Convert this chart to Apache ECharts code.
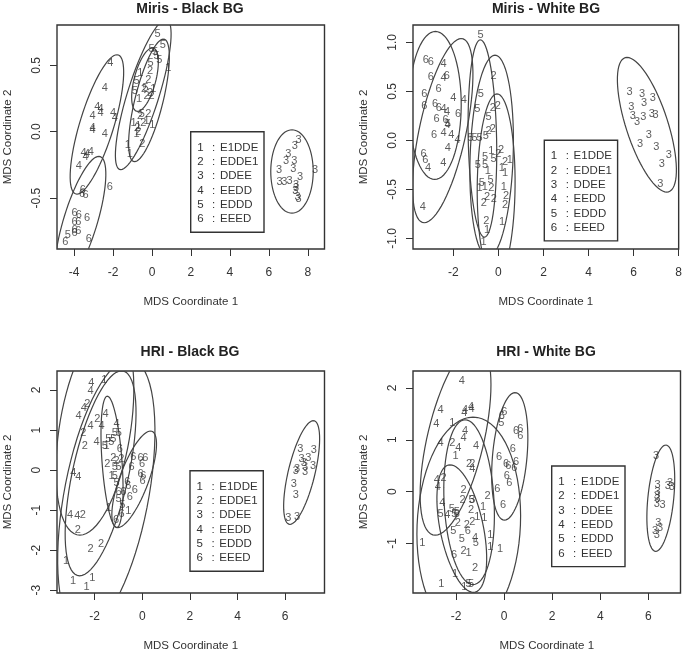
<!DOCTYPE html>
<html>
<head>
<meta charset="utf-8">
<title>MDS plots</title>
<script src="https://cdn.jsdelivr.net/npm/echarts@6/dist/echarts.min.js"></script>
<style>
html, body { margin: 0; padding: 0; background: #fff; }
#main { width: 685px; height: 653px; }
</style>
</head>
<body>
<div id="main"></div>
<script>
var groupDigits = ['1', '2', '3', '4', '5', '6'];
var legendNames = ['E1DDE', 'EDDE1', 'DDEE', 'EEDD', 'EDDD', 'EEED'];
var panelTitles = ['Miris - Black BG', 'Miris - White BG', 'HRI - Black BG', 'HRI - White BG'];
var xAxisName = 'MDS Coordinate 1';
var yAxisName = 'MDS Coordinate 2';

// axis ranges and ticks
var xRanges = [[-4.88, 8.86], [-3.79, 8.0], [-3.58, 7.65], [-3.79, 7.34]];
var yRanges = [[-0.884, 0.804], [-1.108, 1.178], [-3.07, 2.475], [-1.956, 2.327]];
var xTicks = [[-4, -2, 0, 2, 4, 6, 8], [-2, 0, 2, 4, 6, 8], [-2, 0, 2, 4, 6], [-2, 0, 2, 4, 6]];
var yTicks = [[-0.5, 0, 0.5], [-1, -0.5, 0, 0.5, 1], [-3, -2, -1, 0, 1, 2], [-1, 0, 1, 2]];
var yDecimals = [1, 1, 0, 0];

// points per group
var mirisBlack1 = [[-0.6,0.44],[-0.66,0.25],[-0.95,0.065],[0.02,0.05],[-1.24,-0.1],[-1.14,-0.17],[0.84,0.48],[-0.79,-0.02],[-0.28,0.08],[-0.71,0.04],[0.07,0.32]];
var mirisBlack2 = [[-0.5,-0.09],[-0.71,0],[-0.62,0.115],[-0.19,0.13],[-0.45,0.065],[-0.76,0.03],[-0.28,0.27],[-0.1,0.29],[-0.41,0.32],[-0.19,0.39],[-0.1,0.455],[-0.02,0.27]];
var mirisBlack3 = [[7.53,-0.065],[7.34,-0.11],[7,-0.17],[6.88,-0.22],[7.31,-0.22],[7.26,-0.28],[6.53,-0.29],[8.38,-0.29],[7.6,-0.34],[6.55,-0.38],[6.79,-0.38],[7.07,-0.37],[7.4,-0.4],[7.4,-0.425],[7.36,-0.45],[7.48,-0.49],[7.53,-0.51]];
var mirisBlack4 = [[-2.14,0.52],[-2.43,0.33],[-2.81,0.19],[-2.64,0.17],[-2.64,0.14],[-3.05,0.12],[-2,0.14],[-1.91,0.1],[-3.05,0.03],[-3.05,0.015],[-2.43,-0.02],[-3.52,-0.16],[-3.34,-0.17],[-3.14,-0.15],[-3.41,-0.19],[-3.76,-0.26]];
var mirisBlack5 = [[0.29,0.74],[0.55,0.65],[-0.02,0.62],[0.16,0.6],[0.24,0.57],[0.38,0.54],[-0.79,0.38],[-0.88,0.31],[-0.07,0.52],[-0.33,0.33],[-0.53,0.13],[-4.33,-0.78]];
var mirisBlack6 = [[-2.17,-0.42],[-3.55,-0.44],[-3.41,-0.48],[-3.59,-0.47],[-3.98,-0.61],[-3.76,-0.63],[-3.33,-0.65],[-3.98,-0.68],[-3.79,-0.68],[-3.98,-0.74],[-3.79,-0.75],[-3.98,-0.76],[-3.24,-0.81],[-4.45,-0.83]];

var mirisWhite1 = [[-0.32,-0.105],[0.51,-0.2],[0.15,-0.28],[0.29,-0.33],[-0.47,-0.31],[-0.6,-0.47],[0.24,-0.476],[-0.84,-0.486],[0.16,-0.83],[-0.5,-0.91],[-0.66,-1.04]];
var mirisWhite2 = [[-0.22,0.66],[-0.25,0.33],[-0.03,0.35],[-0.44,0.1],[-0.25,0.115],[0.12,-0.095],[0,-0.136],[0.29,-0.22],[-0.32,-0.486],[-0.5,-0.58],[-0.2,-0.6],[-0.65,-0.64],[0.34,-0.57],[0.29,-0.66],[-0.54,-0.82]];
var mirisWhite3 = [[5.82,0.49],[6.37,0.47],[6.85,0.43],[6.46,0.38],[5.9,0.34],[5.97,0.245],[6.15,0.187],[6.43,0.235],[6.81,0.27],[6.97,0.26],[6.68,0.06],[6.29,-0.034],[7.01,-0.07],[7.56,-0.146],[7.25,-0.245],[7.18,-0.446]];
var mirisWhite4 = [[-2.43,0.78],[-2.43,0.64],[-2,0.43],[-1.54,0.41],[-2.43,0.32],[-2.28,0.286],[-2.26,0.16],[-2.43,0.08],[-2.09,0.06],[-1.81,0.007],[-2.25,-0.08],[-2.44,-0.23],[-3.12,-0.28],[-3.35,-0.68]];
var mirisWhite5 = [[-0.79,1.08],[-0.78,0.47],[-0.94,0.32],[-0.44,0.24],[-1.24,0.03],[-1.06,0.03],[-0.84,0.03],[-0.56,0.05],[-0.59,-0.17],[-0.22,-0.19],[-0.91,-0.255],[-0.59,-0.255],[-0.35,-0.4],[-0.74,-0.43],[-2.24,0.17]];
var mirisWhite6 = [[-3.22,0.82],[-3,0.8],[-3,0.65],[-2.29,0.66],[-2.66,0.53],[-3.29,0.476],[-3.29,0.347],[-2.81,0.367],[-2.65,0.333],[-1.79,0.27],[-2.74,0.218],[-2.34,0.21],[-2.85,0.058],[-3.32,-0.136],[-3.24,-0.2]];

var hriBlack1 = [[-1.59,2.24],[-3.2,-2.27],[-2.91,-2.76],[-2.34,-2.92],[-2.1,-2.7],[-1.41,-0.94],[-1.5,0.6],[-1.29,-0.14],[-0.59,-1.03]];
var hriBlack2 = [[-2.31,1.66],[-1.89,1.28],[-2.48,0.92],[-2.41,0.59],[-1.47,0.15],[-0.88,0.27],[-2.5,-1.11],[-2.71,-1.485],[-1.73,-1.84],[-2.17,-1.98],[-1.22,0.31],[-1.08,0.23]];
var hriBlack3 = [[6.63,0.52],[7.2,0.5],[6.97,0.31],[6.69,0.27],[7.17,0.107],[6.5,0.025],[6.83,0.066],[6.78,0.19],[6.83,-0.04],[6.45,-0.02],[6.36,-0.355],[6.45,-0.62],[6.13,-1.2],[6.5,-1.17]];
var hriBlack4 = [[-2.14,2.17],[-2.17,1.97],[-2.45,1.55],[-2.67,1.345],[-1.54,1.4],[-2.17,1.1],[-1.71,1.1],[-1.92,0.7],[-1.08,1.155],[-2.9,-0.07],[-2.69,-0.18],[-3.03,-1.11],[-2.73,-1.15]];
var hriBlack5 = [[-1.15,0.93],[-0.98,0.93],[-1.43,0.77],[-1.22,0.77],[-1.57,0.6],[-1.15,0.07],[-1,0.07],[-1.15,-0.14],[-1.08,-0.31],[-0.84,-0.88],[-1,-0.72],[-1.3,0.7]];
var hriBlack6 = [[-0.38,0.34],[-0.07,0.31],[0.13,0.31],[-0.01,0.15],[-0.45,0.07],[-0.07,-0.1],[0.04,-0.157],[0.01,-0.26],[-0.63,-0.29],[-0.59,-0.39],[-0.8,-0.55],[-0.31,-0.49],[-0.52,-0.66],[-0.87,-1.1],[-1.1,-1.25],[-1,-0.55],[-0.94,0.52]];

var hriWhite1 = [[-2.15,1.32],[-2.02,0.69],[-0.87,-0.29],[-1.11,-0.48],[-0.82,-0.5],[-0.57,-0.83],[-0.57,-1.06],[-0.17,-1.1],[-1.48,-1.19],[-3.4,-1],[-2.04,-1.59],[-2.61,-1.79],[-1.65,-1.83]];
var hriWhite2 = [[-2.15,0.93],[-1.46,0.54],[-1.32,0.53],[-2.52,0.26],[-1.69,0.04],[-1.73,-0.16],[-0.69,-0.08],[-1.37,-0.36],[-1.93,-0.6],[-1.55,-0.65],[-1.32,-0.59],[-1.69,-1.15],[-1.21,-1.48]];
var hriWhite3 = [[6.32,0.69],[6.39,0.13],[6.39,-0.01],[6.35,-0.08],[6.39,-0.15],[6.35,-0.24],[6.59,-0.25],[6.91,0.17],[6.98,0.08],[6.81,0.11],[6.42,-0.6],[6.28,-0.75],[6.49,-0.71],[6.35,-0.84],[-1.32,-0.17]];
var hriWhite4 = [[-1.76,2.14],[-2.64,1.57],[-2.82,1.31],[-1.37,1.63],[-1.35,1.59],[-1.62,1.57],[-1.65,1.52],[-1.62,1.17],[-1.69,1.04],[-2.64,0.93],[-1.9,0.85],[-1.17,0.89],[-1.32,0.43],[-2.8,0.23],[-2.76,0.08],[-2.57,-0.22],[-2.36,-0.45],[-1.21,-0.9]];
var hriWhite5 = [[-2.64,-0.43],[-2.18,-0.33],[-2.11,-0.76],[-1.76,-0.92],[-1.18,-1],[-1.97,-0.39],[-2.07,-0.43],[-1.35,-0.17],[-1.48,-1.78],[-1.37,-1.78],[-0.12,1.32]];
var hriWhite6 = [[0.01,1.53],[-0.1,1.46],[0.67,1.21],[0.5,1.17],[0.67,1.08],[0.36,0.83],[-0.21,0.66],[0.08,0.54],[0.5,0.57],[0.18,0.5],[0.43,0.45],[0.11,0.31],[0.22,0.16],[-0.28,0.05],[-0.04,-0.25],[-2.08,-1.22],[-1.97,-0.43],[-1.51,-0.75]];

// rings: centre x, centre y, top point offset x, y, half width at centre height
var mirisBlackRings = [[7.19,-0.3,0,0.314,1.09],[-2.83,0.055,1.03,0.525,0.91],[-3.68,-0.676,0.95,0.49,0.9],[-0.45,0.279,1.155,0.565,0.845],[-0.155,0.236,0.74,0.462,0.74],[-0.36,0.392,0.38,0.239,0.57]];
var mirisWhiteRings = [[6.59,0.16,-0.88,0.687,0.97],[-2.81,0.357,0.015,0.755,1.16],[-2.47,0.1,0.82,0.94,1.06],[-0.71,0.02,-0.09,1.007,0.63],[-0.3,-0.16,0.15,1.03,0.955],[-0.1,-0.47,0.04,0.945,0.84]];
var hriBlackRings = [[6.69,-0.06,0.49,1.295,0.575],[-0.34,-0.23,0.685,1.205,0.64],[-1.27,0.206,-0.196,1.64,0.42],[-1.99,1.015,0.63,2.64,1.51],[-1.75,-0.08,0.88,2.56,1.2],[-1.51,-0.635,0.965,3.4,1.8]];
var hriWhiteRings = [[0.236,0.68,0.22,1.23,0.72],[6.52,-0.127,0.21,1.025,0.54],[-2.02,1.006,0.846,1.847,1.207],[-1.47,-0.643,0.18,2.08,2.15],[-1.456,-0.204,-0.166,1.59,1.04],[-1.76,-0.713,-0.485,1.23,0.915]];

var panelGroups = [
    [mirisBlack1, mirisBlack2, mirisBlack3, mirisBlack4, mirisBlack5, mirisBlack6],
    [mirisWhite1, mirisWhite2, mirisWhite3, mirisWhite4, mirisWhite5, mirisWhite6],
    [hriBlack1, hriBlack2, hriBlack3, hriBlack4, hriBlack5, hriBlack6],
    [hriWhite1, hriWhite2, hriWhite3, hriWhite4, hriWhite5, hriWhite6]
];
var panelRings = [mirisBlackRings, mirisWhiteRings, hriBlackRings, hriWhiteRings];

// layout in pixels
var gridBoxes = [[57, 25], [413, 25], [57, 371], [413, 371]];
var legendBoxes = [[190.7, 131.7], [544.3, 140.3], [190, 470.7], [551.7, 466]];
var titleTops = [2, 2, 345, 345];

var FONT = '"Liberation Sans", Arial, sans-serif';
var INK = '#333';

function renderRing(params, api) {
    var cx = api.value(0), cy = api.value(1);
    var ux = api.value(2), uy = api.value(3), hw = api.value(4);
    var pts = [];
    for (var k = 0; k <= 72; k++) {
        var a = k / 72 * Math.PI * 2;
        pts.push(api.coord([cx + ux * Math.cos(a) + hw * Math.sin(a), cy + uy * Math.cos(a)]));
    }
    return {
        type: 'polyline',
        shape: { points: pts },
        style: { stroke: '#444', lineWidth: 1.2, fill: null }
    };
}

var grids = [], xAxes = [], yAxes = [], titles = [], series = [], graphics = [];

panelTitles.forEach(function (name, p) {
    var box = gridBoxes[p];
    grids.push({
        left: box[0], top: box[1], width: 267.5, height: 224,
        show: true, borderColor: INK, borderWidth: 1.4, backgroundColor: 'transparent'
    });
    titles.push({
        text: name, left: box[0] + 133, top: titleTops[p], textAlign: 'center', padding: 0,
        textStyle: { fontFamily: FONT, fontSize: 14, fontWeight: 'bold', color: '#222' }
    });
    xAxes.push({
        type: 'value', gridIndex: p, position: 'bottom', min: xRanges[p][0], max: xRanges[p][1],
        name: xAxisName, nameLocation: 'middle', nameGap: 47,
        nameTextStyle: { fontFamily: FONT, fontSize: 11.5, color: INK },
        axisLine: { show: false, onZero: false },
        splitLine: { show: false },
        axisTick: { show: true, length: 7, customValues: xTicks[p], lineStyle: { color: INK } },
        axisLabel: {
            margin: 18, fontFamily: FONT, fontSize: 12, color: INK, customValues: xTicks[p],
            formatter: function (v) { return String(v); }
        }
    });
    yAxes.push({
        type: 'value', gridIndex: p, position: 'left', min: yRanges[p][0], max: yRanges[p][1],
        name: yAxisName, nameLocation: 'middle', nameGap: 43, nameRotate: 90,
        nameTextStyle: { fontFamily: FONT, fontSize: 11.5, color: INK },
        axisLine: { show: false, onZero: false },
        splitLine: { show: false },
        axisTick: { show: true, length: 7, customValues: yTicks[p], lineStyle: { color: INK } },
        axisLabel: {
            margin: 14, rotate: 90, fontFamily: FONT, fontSize: 12, color: INK, customValues: yTicks[p],
            formatter: function (v) { return Number(v).toFixed(yDecimals[p]); }
        }
    });
    series.push({
        type: 'custom', xAxisIndex: p, yAxisIndex: p, silent: true, clip: true,
        renderItem: renderRing,
        encode: { x: 0, y: 1 },
        data: panelRings[p]
    });
    panelGroups[p].forEach(function (pts, g) {
        series.push({
            type: 'scatter', xAxisIndex: p, yAxisIndex: p, silent: true,
            name: groupDigits[g],
            symbol: 'circle', symbolSize: 1,
            itemStyle: { color: 'transparent' },
            label: {
                show: true, position: 'inside', formatter: groupDigits[g],
                fontFamily: FONT, fontSize: 11, color: INK
            },
            data: pts
        });
    });

    // legend box
    var lb = legendBoxes[p];
    graphics.push({
        type: 'rect', silent: true, z: 50,
        shape: { x: lb[0], y: lb[1], width: 73.3, height: 100.6 },
        style: { fill: '#fff', stroke: INK, lineWidth: 1.4 }
    });
    groupDigits.forEach(function (d, g) {
        var rowY = lb[1] + 16 + g * 14.3;
        var rowStyle = { fontFamily: FONT, fontSize: 11.5, fill: INK, verticalAlign: 'middle' };
        graphics.push({ type: 'text', silent: true, z: 51, x: lb[0] + 9.7, y: rowY,
            style: Object.assign({ text: d, align: 'center' }, rowStyle) });
        graphics.push({ type: 'text', silent: true, z: 51, x: lb[0] + 23, y: rowY,
            style: Object.assign({ text: ':', align: 'center' }, rowStyle) });
        graphics.push({ type: 'text', silent: true, z: 51, x: lb[0] + 29.3, y: rowY,
            style: Object.assign({ text: legendNames[g], align: 'left' }, rowStyle) });
    });
});

var chart = echarts.init(document.getElementById('main'), null, { renderer: 'canvas' });
chart.setOption({
    animation: false,
    backgroundColor: '#fff',
    tooltip: { show: false },
    title: titles,
    grid: grids,
    xAxis: xAxes,
    yAxis: yAxes,
    series: series,
    graphic: graphics
});
</script>
</body>
</html>
